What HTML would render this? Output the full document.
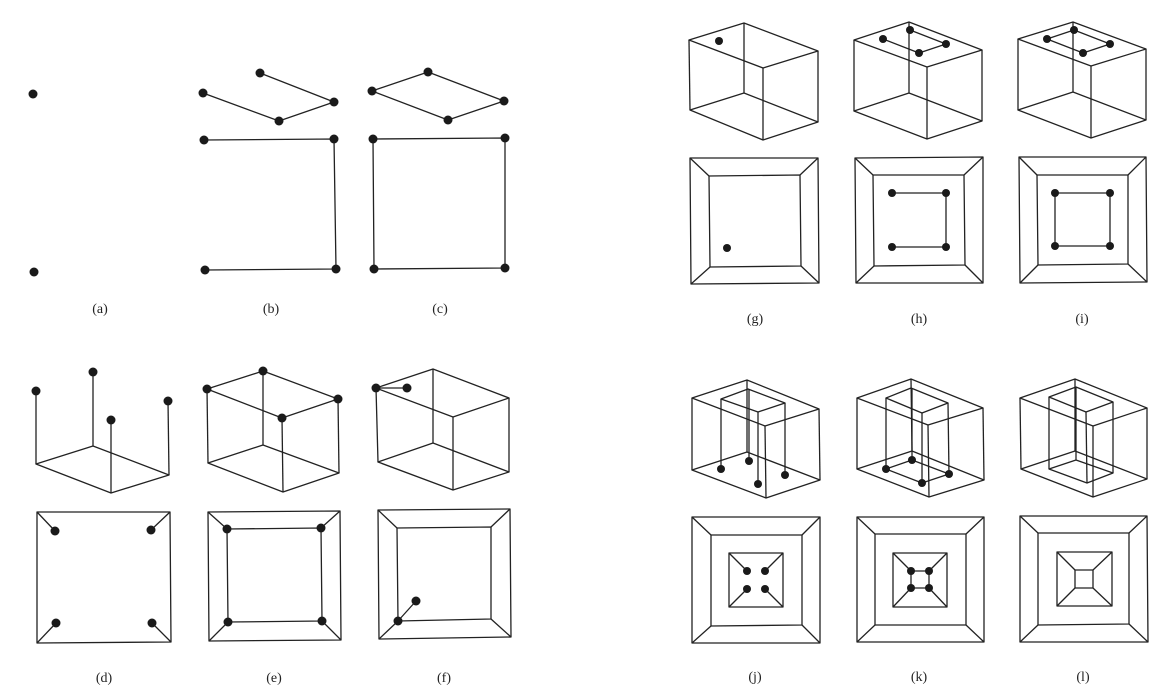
<!DOCTYPE html>
<html><head><meta charset="utf-8"><style>
html,body{margin:0;padding:0;background:#fff;}
svg{display:block;}
line,polyline,polygon{stroke:#222;stroke-width:1.3;fill:none;stroke-linejoin:round;}
circle{fill:#1a1a1a;}
text{font-family:"Liberation Serif",serif;font-size:14px;fill:#222;text-anchor:middle;}
</style></head><body>
<svg width="1172" height="698" viewBox="0 0 1172 698">
<!-- (a) -->
<circle cx="33" cy="94" r="4.5"/><circle cx="34" cy="272" r="4.5"/>
<text x="100" y="313">(a)</text>
<!-- (b) -->
<polyline points="203,93 279,121 334,102 260,73"/>
<polyline points="204,140 334,139 336,269 205,270"/>
<circle cx="260" cy="73" r="4.5"/><circle cx="203" cy="93" r="4.5"/><circle cx="279" cy="121" r="4.5"/><circle cx="334" cy="102" r="4.5"/>
<circle cx="204" cy="140" r="4.5"/><circle cx="334" cy="139" r="4.5"/><circle cx="336" cy="269" r="4.5"/><circle cx="205" cy="270" r="4.5"/>
<text x="271" y="313">(b)</text>
<!-- (c) -->
<polygon points="372,91 428,72 504,101 448,120"/>
<polygon points="373,139 505,138 505,268 374,269"/>
<circle cx="428" cy="72" r="4.5"/><circle cx="372" cy="91" r="4.5"/><circle cx="448" cy="120" r="4.5"/><circle cx="504" cy="101" r="4.5"/>
<circle cx="373" cy="139" r="4.5"/><circle cx="505" cy="138" r="4.5"/><circle cx="505" cy="268" r="4.5"/><circle cx="374" cy="269" r="4.5"/>
<text x="440" y="313">(c)</text>
<!-- (d) -->
<polygon points="36,464 93,446 169,475 111,493"/>
<line x1="36" y1="391" x2="36" y2="464"/><line x1="93" y1="372" x2="93" y2="446"/><line x1="111" y1="420" x2="111" y2="493"/><line x1="168" y1="401" x2="169" y2="475"/>
<circle cx="36" cy="391" r="4.5"/><circle cx="93" cy="372" r="4.5"/><circle cx="111" cy="420" r="4.5"/><circle cx="168" cy="401" r="4.5"/>
<polygon points="37,512 170,512 171,642 37,643"/>
<line x1="37" y1="512" x2="55" y2="531"/><line x1="170" y1="512" x2="151" y2="530"/><line x1="171" y1="642" x2="152" y2="623"/><line x1="37" y1="643" x2="56" y2="623"/>
<circle cx="55" cy="531" r="4.5"/><circle cx="151" cy="530" r="4.5"/><circle cx="152" cy="623" r="4.5"/><circle cx="56" cy="623" r="4.5"/>
<text x="104" y="682">(d)</text>
<!-- (e) -->
<polygon points="207,389 263,371 338,399 282,418"/>
<polygon points="208,463 263,445 339,473 283,492"/>
<line x1="207" y1="389" x2="208" y2="463"/><line x1="263" y1="371" x2="263" y2="445"/><line x1="338" y1="399" x2="339" y2="473"/><line x1="282" y1="418" x2="283" y2="492"/>
<circle cx="207" cy="389" r="4.5"/><circle cx="263" cy="371" r="4.5"/><circle cx="338" cy="399" r="4.5"/><circle cx="282" cy="418" r="4.5"/>
<polygon points="208,512 340,511 341,640 209,641"/>
<polygon points="227,529 321,528 322,621 228,622"/>
<line x1="208" y1="512" x2="227" y2="529"/><line x1="340" y1="511" x2="321" y2="528"/><line x1="341" y1="640" x2="322" y2="621"/><line x1="209" y1="641" x2="228" y2="622"/>
<circle cx="227" cy="529" r="4.5"/><circle cx="321" cy="528" r="4.5"/><circle cx="322" cy="621" r="4.5"/><circle cx="228" cy="622" r="4.5"/>
<text x="274" y="682">(e)</text>
<!-- (f) -->
<polygon points="376,388 433,369 509,398 453,417"/>
<polygon points="378,462 433,443 509,472 453,490"/>
<line x1="376" y1="388" x2="378" y2="462"/><line x1="433" y1="369" x2="433" y2="443"/><line x1="509" y1="398" x2="509" y2="472"/><line x1="453" y1="417" x2="453" y2="490"/>
<line x1="376" y1="388" x2="407" y2="388"/>
<circle cx="376" cy="388" r="4.5"/><circle cx="407" cy="388" r="4.5"/>
<polygon points="378,510 510,509 511,637 379,639"/>
<polygon points="397,528 491,527 491,619 398,621"/>
<line x1="378" y1="510" x2="397" y2="528"/><line x1="510" y1="509" x2="491" y2="527"/><line x1="511" y1="637" x2="491" y2="619"/><line x1="379" y1="639" x2="398" y2="621"/>
<line x1="398" y1="621" x2="416" y2="601"/>
<circle cx="398" cy="621" r="4.5"/><circle cx="416" cy="601" r="4.5"/>
<text x="444" y="682">(f)</text>
<!-- (g) -->
<polygon points="689,40 744,23 818,51 763,68"/>
<polygon points="690,110 744,93 818,122 763,140"/>
<line x1="689" y1="40" x2="690" y2="110"/><line x1="744" y1="23" x2="744" y2="93"/><line x1="818" y1="51" x2="818" y2="122"/><line x1="763" y1="68" x2="763" y2="140"/>
<circle cx="719" cy="41" r="4"/>
<polygon points="690,158 818,158 819,283 691,284"/>
<polygon points="709,176 800,175 801,266 710,267"/>
<line x1="690" y1="158" x2="709" y2="176"/><line x1="818" y1="158" x2="800" y2="175"/><line x1="819" y1="283" x2="801" y2="266"/><line x1="691" y1="284" x2="710" y2="267"/>
<circle cx="727" cy="248" r="4"/>
<text x="755" y="323">(g)</text>
<!-- (h) -->
<polygon points="854,40 909,22 982,50 927,67"/>
<polygon points="854,111 909,93 982,121 927,139"/>
<line x1="854" y1="40" x2="854" y2="111"/><line x1="909" y1="22" x2="909" y2="93"/><line x1="982" y1="50" x2="982" y2="121"/><line x1="927" y1="67" x2="927" y2="139"/>
<polyline points="883,39 919,53 946,44 910,30"/>
<circle cx="883" cy="39" r="4"/><circle cx="910" cy="30" r="4"/><circle cx="946" cy="44" r="4"/><circle cx="919" cy="53" r="4"/>
<polygon points="855,158 983,157 983,283 856,283"/>
<polygon points="873,175 964,175 965,265 874,266"/>
<line x1="855" y1="158" x2="873" y2="175"/><line x1="983" y1="157" x2="964" y2="175"/><line x1="983" y1="283" x2="965" y2="265"/><line x1="856" y1="283" x2="874" y2="266"/>
<polyline points="892,193 946,193 946,247 892,247"/>
<circle cx="892" cy="193" r="4"/><circle cx="946" cy="193" r="4"/><circle cx="946" cy="247" r="4"/><circle cx="892" cy="247" r="4"/>
<text x="919" y="323">(h)</text>
<!-- (i) -->
<polygon points="1018,39 1073,22 1146,49 1091,66"/>
<polygon points="1018,110 1073,92 1146,120 1091,138"/>
<line x1="1018" y1="39" x2="1018" y2="110"/><line x1="1073" y1="22" x2="1073" y2="92"/><line x1="1146" y1="49" x2="1146" y2="120"/><line x1="1091" y1="66" x2="1091" y2="138"/>
<polygon points="1047,39 1074,30 1110,44 1083,53"/>
<circle cx="1047" cy="39" r="4"/><circle cx="1074" cy="30" r="4"/><circle cx="1110" cy="44" r="4"/><circle cx="1083" cy="53" r="4"/>
<polygon points="1019,157 1146,157 1147,282 1020,283"/>
<polygon points="1037,175 1128,175 1128,264 1038,265"/>
<line x1="1019" y1="157" x2="1037" y2="175"/><line x1="1146" y1="157" x2="1128" y2="175"/><line x1="1147" y1="282" x2="1128" y2="264"/><line x1="1020" y1="283" x2="1038" y2="265"/>
<polygon points="1055,193 1110,193 1110,246 1055,246"/>
<circle cx="1055" cy="193" r="4"/><circle cx="1110" cy="193" r="4"/><circle cx="1110" cy="246" r="4"/><circle cx="1055" cy="246" r="4"/>
<text x="1082" y="323">(i)</text>
<!-- (j) -->
<polygon points="692,398 747,380 819,409 765,426"/>
<polygon points="692,470 747,452 820,480 766,498"/>
<line x1="692" y1="398" x2="692" y2="470"/><line x1="747" y1="380" x2="747" y2="452"/><line x1="819" y1="409" x2="820" y2="480"/><line x1="765" y1="426" x2="766" y2="498"/>
<polygon points="721,399 748,389 785,403 758,412"/>
<line x1="721" y1="399" x2="721" y2="469"/><line x1="749" y1="389" x2="749" y2="461"/><line x1="785" y1="403" x2="785" y2="475"/><line x1="758" y1="412" x2="758" y2="484"/>
<circle cx="721" cy="469" r="4"/><circle cx="749" cy="461" r="4"/><circle cx="785" cy="475" r="4"/><circle cx="758" cy="484" r="4"/>
<polygon points="692,517 820,517 820,643 692,643"/>
<polygon points="711,535 802,535 802,625 711,626"/>
<line x1="692" y1="517" x2="711" y2="535"/><line x1="820" y1="517" x2="802" y2="535"/><line x1="820" y1="643" x2="802" y2="625"/><line x1="692" y1="643" x2="711" y2="626"/>
<polygon points="729,553 783,553 783,607 729,607"/>
<line x1="729" y1="553" x2="747" y2="571"/><line x1="783" y1="553" x2="765" y2="571"/><line x1="783" y1="607" x2="765" y2="589"/><line x1="729" y1="607" x2="747" y2="589"/>
<circle cx="747" cy="571" r="4"/><circle cx="765" cy="571" r="4"/><circle cx="747" cy="589" r="4"/><circle cx="765" cy="589" r="4"/>
<text x="755" y="681">(j)</text>
<!-- (k) -->
<polygon points="857,398 911,379 983,408 928,425"/>
<polygon points="857,469 912,451 984,480 929,497"/>
<line x1="857" y1="398" x2="857" y2="469"/><line x1="911" y1="379" x2="912" y2="451"/><line x1="983" y1="408" x2="984" y2="480"/><line x1="928" y1="425" x2="929" y2="497"/>
<polygon points="886,398 911,388 948,403 922,413"/>
<polygon points="886,469 912,460 949,474 922,483"/>
<line x1="886" y1="398" x2="886" y2="469"/><line x1="912" y1="388" x2="912" y2="460"/><line x1="948" y1="403" x2="949" y2="474"/><line x1="922" y1="413" x2="922" y2="483"/>
<circle cx="886" cy="469" r="4"/><circle cx="912" cy="460" r="4"/><circle cx="949" cy="474" r="4"/><circle cx="922" cy="483" r="4"/>
<polygon points="857,517 984,517 984,642 857,642"/>
<polygon points="875,534 966,534 966,625 875,625"/>
<line x1="857" y1="517" x2="875" y2="534"/><line x1="984" y1="517" x2="966" y2="534"/><line x1="984" y1="642" x2="966" y2="625"/><line x1="857" y1="642" x2="875" y2="625"/>
<polygon points="893,553 947,553 947,607 893,607"/>
<line x1="893" y1="553" x2="911" y2="571"/><line x1="947" y1="553" x2="929" y2="571"/><line x1="947" y1="607" x2="929" y2="588"/><line x1="893" y1="607" x2="911" y2="588"/>
<polygon points="911,571 929,571 929,588 911,588"/>
<circle cx="911" cy="571" r="4"/><circle cx="929" cy="571" r="4"/><circle cx="929" cy="588" r="4"/><circle cx="911" cy="588" r="4"/>
<text x="919" y="681">(k)</text>
<!-- (l) -->
<polygon points="1020,398 1075,379 1147,408 1093,426"/>
<polygon points="1021,469 1075,451 1147,479 1093,497"/>
<line x1="1020" y1="398" x2="1021" y2="469"/><line x1="1075" y1="379" x2="1075" y2="451"/><line x1="1147" y1="408" x2="1147" y2="479"/><line x1="1093" y1="426" x2="1093" y2="497"/>
<polygon points="1049,397 1076,387 1113,402 1086,412"/>
<polygon points="1049,469 1076,460 1113,473 1087,483"/>
<line x1="1049" y1="397" x2="1049" y2="469"/><line x1="1076" y1="387" x2="1076" y2="460"/><line x1="1113" y1="402" x2="1113" y2="473"/><line x1="1086" y1="412" x2="1087" y2="483"/>
<polygon points="1020,516 1147,516 1148,642 1020,642"/>
<polygon points="1038,533 1129,533 1129,624 1038,625"/>
<line x1="1020" y1="516" x2="1038" y2="533"/><line x1="1147" y1="516" x2="1129" y2="533"/><line x1="1148" y1="642" x2="1129" y2="624"/><line x1="1020" y1="642" x2="1038" y2="625"/>
<polygon points="1057,552 1112,552 1112,606 1057,606"/>
<polygon points="1075,570 1093,570 1093,588 1075,588"/>
<line x1="1057" y1="552" x2="1075" y2="570"/><line x1="1112" y1="552" x2="1093" y2="570"/><line x1="1112" y1="606" x2="1093" y2="588"/><line x1="1057" y1="606" x2="1075" y2="588"/>
<text x="1083" y="681">(l)</text>
</svg>
</body></html>
